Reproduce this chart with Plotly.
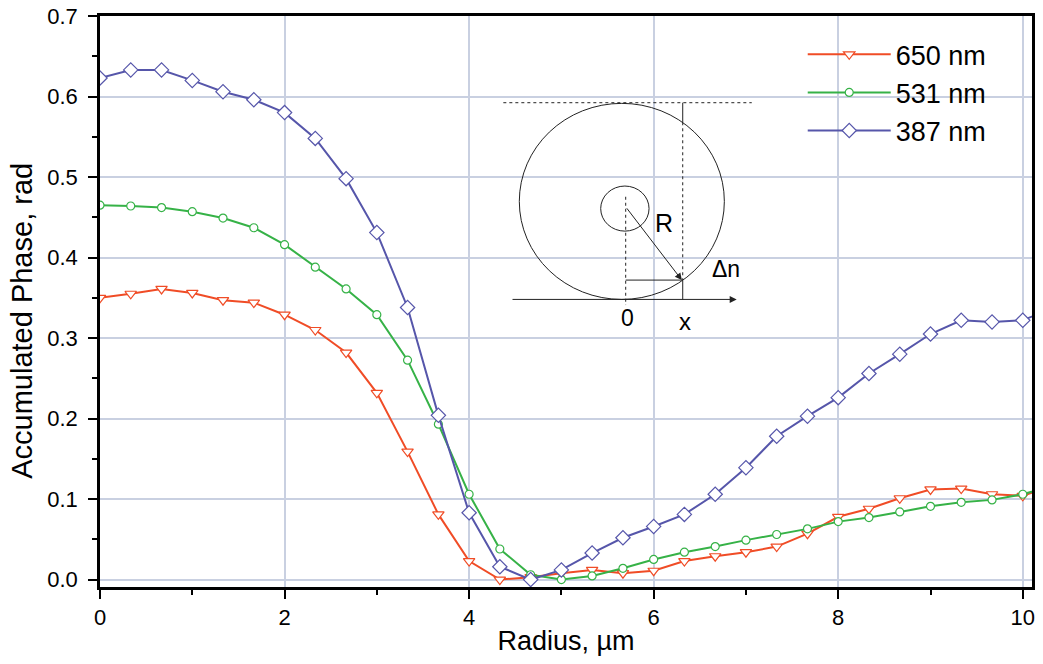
import plotly.graph_objects as go

# ---------------- data ----------------
radius = [0.0, 0.333, 0.667, 1.0, 1.333, 1.667, 2.0, 2.333, 2.667, 3.0, 3.333,
          3.667, 4.0, 4.333, 4.667, 5.0, 5.333, 5.667, 6.0, 6.333, 6.667,
          7.0, 7.333, 7.667, 8.0, 8.333, 8.667, 9.0, 9.333, 9.667, 10.0, 10.333]

phase_650 = [0.350, 0.355, 0.361, 0.356, 0.347, 0.344, 0.329, 0.310, 0.282, 0.232, 0.159,
             0.081, 0.023, 0.000, 0.003, 0.008, 0.012, 0.008, 0.011, 0.023, 0.029,
             0.034, 0.041, 0.057, 0.078, 0.088, 0.101, 0.112, 0.113, 0.106, 0.104, 0.117]

phase_531 = [0.465, 0.464, 0.462, 0.457, 0.449, 0.437, 0.416, 0.388, 0.361, 0.329, 0.2725,
             0.193, 0.106, 0.038, 0.006, 0.000, 0.0045, 0.014, 0.025, 0.034, 0.041,
             0.049, 0.056, 0.063, 0.072, 0.077, 0.084, 0.091, 0.096, 0.099, 0.106, 0.117]

phase_387 = [0.623, 0.633, 0.633, 0.620, 0.606, 0.596, 0.580, 0.548, 0.498, 0.431, 0.338,
             0.204, 0.083, 0.016, 0.000, 0.012, 0.033, 0.052, 0.066, 0.081, 0.106,
             0.139, 0.178, 0.203, 0.226, 0.256, 0.280, 0.305, 0.322, 0.320, 0.322, 0.338]

series_names = ["650 nm", "531 nm", "387 nm"]
x_ticks = [0, 2, 4, 6, 8, 10]
y_ticks = [0.0, 0.1, 0.2, 0.3, 0.4, 0.5, 0.6, 0.7]
x_title = "Radius, µm"
y_title = "Accumulated Phase, rad"

# ---------------- styling ----------------
FONT = "Arial, Liberation Sans, sans-serif"
colors = ["#f04c26", "#36b247", "#5656aa"]
symbols = ["triangle-down", "circle", "diamond"]
sizes = [10, 8, 11]

fig = go.Figure()
for name, ys, col, sym, sz in zip(series_names, [phase_650, phase_531, phase_387],
                                  colors, symbols, sizes):
    fig.add_trace(go.Scatter(
        x=radius, y=ys, name=name, mode="lines+markers",
        line=dict(color=col, width=2),
        marker=dict(symbol=sym, size=sz, color="white",
                    line=dict(color=col, width=1.2)),
    ))

axis_common = dict(
    showline=True, linecolor="black", linewidth=2.5, mirror=True,
    ticks="outside", ticklen=9, tickwidth=2, tickcolor="black",
    showgrid=True, gridcolor="#c9d0e1", gridwidth=1.5,
    zeroline=False, automargin=False,
    tickfont=dict(family=FONT, size=22, color="black"),
)

fig.update_xaxes(
    range=[0, 10.1], tickvals=x_ticks, ticktext=[str(v) for v in x_ticks],
    minor=dict(dtick=1, tick0=0, ticks="outside", ticklen=5, tickwidth=2,
               tickcolor="black", showgrid=False),
    title=dict(text=x_title, font=dict(family=FONT, size=27, color="black"),
               standoff=2),
    **axis_common,
)
fig.update_yaxes(
    range=[-0.0092, 0.7], tickvals=y_ticks, ticktext=[f"{v:.1f}" for v in y_ticks],
    minor=dict(dtick=0.05, tick0=0, ticks="outside", ticklen=5, tickwidth=2,
               tickcolor="black", showgrid=False),
    ticklabelstandoff=6,
    **axis_common,
)

# ---------------- inset schematic (data-space geometry) ----------------
ink = "#222222"
shapes = [
    dict(type="circle", xref="x", yref="y", x0=4.544, x1=6.766, y0=0.348, y1=0.5915,
         line=dict(color=ink, width=1)),
    dict(type="circle", xref="x", yref="y", x0=5.426, x1=5.950, y0=0.4328, y1=0.4888,
         line=dict(color=ink, width=1)),
    dict(type="line", xref="x", yref="y", x0=4.371, x1=7.063, y0=0.5923, y1=0.5923,
         line=dict(color=ink, width=1, dash="dot")),
    dict(type="line", xref="x", yref="y", x0=6.315, x1=6.315, y0=0.5923, y1=0.568,
         line=dict(color=ink, width=1)),
    dict(type="line", xref="x", yref="y", x0=6.315, x1=6.315, y0=0.568, y1=0.372,
         line=dict(color=ink, width=1, dash="dot")),
    dict(type="line", xref="x", yref="y", x0=6.315, x1=6.315, y0=0.372, y1=0.348,
         line=dict(color=ink, width=1)),
    dict(type="line", xref="x", yref="y", x0=5.697, x1=5.697, y0=0.4755, y1=0.341,
         line=dict(color=ink, width=1, dash="dot")),
    dict(type="line", xref="x", yref="y", x0=5.697, x1=6.315, y0=0.372, y1=0.372,
         line=dict(color=ink, width=1)),
]

annotations = [
    dict(x=6.305, y=0.372, ax=5.697, ay=0.463, xref="x", yref="y", axref="x", ayref="y",
         text="", showarrow=True, arrowhead=2, arrowsize=1.4, arrowwidth=1, arrowcolor=ink),
    dict(x=6.90, y=0.348, ax=4.454, ay=0.348, xref="x", yref="y", axref="x", ayref="y",
         text="", showarrow=True, arrowhead=2, arrowsize=1.4, arrowwidth=1, arrowcolor=ink),
    dict(x=6.116, y=0.4431, xref="x", yref="y", text="R", showarrow=False,
         font=dict(family=FONT, size=25, color="black")),
    dict(x=6.784, y=0.3852, xref="x", yref="y", text="Δn", showarrow=False,
         font=dict(family=FONT, size=23, color="black")),
    dict(x=5.711, y=0.3247, xref="x", yref="y", text="0", showarrow=False,
         font=dict(family=FONT, size=23, color="black")),
    dict(x=6.340, y=0.3200, xref="x", yref="y", text="x", showarrow=False,
         font=dict(family=FONT, size=24, color="black")),
    # y-axis title (placed as rotated text to match original position)
    dict(x=-0.0832, y=0.467, xref="paper", yref="paper", text=y_title,
         textangle=-90, showarrow=False, xanchor="center", yanchor="middle",
         font=dict(family=FONT, size=29, color="black")),
]

fig.update_layout(
    width=1043, height=664,
    margin=dict(l=100, r=11, t=16, b=77, autoexpand=False),
    plot_bgcolor="white", paper_bgcolor="white",
    font=dict(family=FONT, color="black"),
    shapes=shapes, annotations=annotations,
    legend=dict(x=0.754, y=0.975, xanchor="left", yanchor="top",
                bgcolor="rgba(255,255,255,0)", borderwidth=0,
                font=dict(family=FONT, size=27, color="black"),
                itemwidth=83, tracegroupgap=0),
    showlegend=True,
)

fig.write_html("out.html", config={"displayModeBar": False},
               post_script="document.body.style.margin='0';document.body.style.overflow='hidden';")
